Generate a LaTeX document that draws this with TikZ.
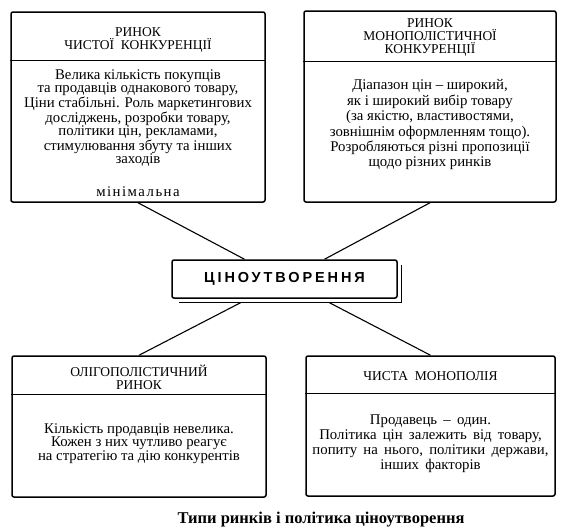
\documentclass[tikz,border=0pt]{standalone}
\usepackage{fontspec}
\setmainfont{Liberation Serif}
\newfontfamily\spacedsans{Liberation Sans}
\newcommand\mywidespace{\spaceskip=0.42em plus 0.1em\relax}
\begin{document}
\begin{tikzpicture}[x=1pt,y=-1pt,
  mbox/.style={draw, line width=1.5pt, rounded corners=2pt, inner sep=0pt},
  ttl/.style={align=center, font=\fontsize{13.5}{13}\selectfont},
  body/.style={align=center, font=\fontsize{14.8}{13.5}\selectfont},
  link/.style={line width=1.1pt},
  divider/.style={line width=1pt}]
\useasboundingbox (0,0) rectangle (562,531);
\fill[white] (0,0) rectangle (562,531);

% top left
\node[mbox, minimum width=254pt, minimum height=190pt] (tl) at (138,107) {};
\draw[divider] ([yshift=-49pt]tl.north west) -- ([yshift=-49pt]tl.north east);
\node[ttl] (tlt) at (138,39.5) {РИНОК\\ЧИСТОЇ\enspace КОНКУРЕНЦІЇ};
\node[body] (tlb) at (138,118) {Велика кількість покупців\\та продавців однакового товару,\\Ціни стабільні. Роль маркетингових\\досліджень, розробки товару,\\політики цін, рекламами,\\стимулювання збуту та інших\\заходів};
\node[body, font=\fontsize{14.8}{13.5}\selectfont\addfontfeature{LetterSpace=10}] (tlm) at (138,192) {мінімальна};

% top right
\node[mbox, minimum width=252pt, minimum height=191pt] (tr) at (430,106.5) {};
\draw[divider] ([yshift=-51pt]tr.north west) -- ([yshift=-51pt]tr.north east);
\node[ttl] (trt) at (430,37) {РИНОК\\МОНОПОЛІСТИЧНОЇ\\КОНКУРЕНЦІЇ};
\node[body, font=\fontsize{14.8}{15.4}\selectfont] (trb) at (430,125) {Діапазон цін – широкий,\\як і широкий вибір товару\\(за якістю, властивостями,\\зовнішнім оформленням тощо).\\Розробляються різні пропозиції\\щодо різних ринків};

% centre
\node[mbox, minimum width=225pt, minimum height=38pt, font=\spacedsans\bfseries\fontsize{14.5}{14}\selectfont\addfontfeature{LetterSpace=20}] (c) at (284.5,279) {ЦІНОУТВОРЕННЯ};
\draw[line width=1pt] ([xshift=4pt,yshift=-6pt]c.north east) -- ([xshift=4pt,yshift=-4pt]c.south east) -- ([xshift=8pt,yshift=-4pt]c.south west);

% bottom left
\node[mbox, minimum width=254pt, minimum height=141pt] (bl) at (139,426.5) {};
\draw[divider] ([yshift=-39pt]bl.north west) -- ([yshift=-39pt]bl.north east);
\node[ttl] (blt) at (139,377) {ОЛІГОПОЛІСТИЧНИЙ\\РИНОК};
\node[body] (blb) at (139,443.5) {Кількість продавців невелика.\\Кожен з них чутливо реагує\\на стратегію та дію конкурентів};

% bottom right
\node[mbox, minimum width=249pt, minimum height=140pt] (br) at (430.5,426) {};
\draw[divider] ([yshift=-38pt]br.north west) -- ([yshift=-38pt]br.north east);
\node[ttl] (brt) at (430.5,376) {ЧИСТА\enspace МОНОПОЛІЯ};
\node[body, font=\fontsize{14.8}{15}\selectfont\mywidespace] (brb) at (430.5,444) {Продавець – один.\\Політика цін залежить від товару,\\попиту на нього, політики держави,\\інших факторів};

% connectors
\draw[link] (tl.south) -- ([xshift=-40pt]c.north);
\draw[link] (tr.south) -- ([xshift=40pt]c.north);
\draw[link] ([xshift=-44pt,yshift=-4pt]c.south) -- (bl.north);
\draw[link] ([xshift=45pt,yshift=-4pt]c.south) -- (br.north);

% caption
\node[font=\bfseries\fontsize{16.5}{18}\selectfont] (cap) at (321,520) {Типи ринків і політика ціноутворення};
\end{tikzpicture}
\end{document}
